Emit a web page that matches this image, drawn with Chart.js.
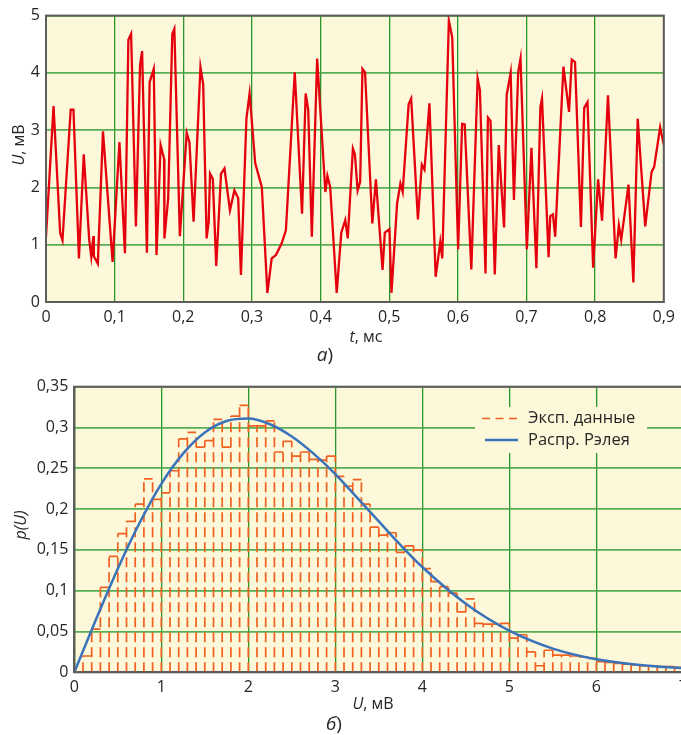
<!DOCTYPE html>
<html>
<head>
<meta charset="utf-8">
<script src="https://cdn.jsdelivr.net/npm/chart.js@4.4.1/dist/chart.umd.min.js"></script>
<style>
  html, body { margin: 0; padding: 0; background: #fff; }
  body { width: 681px; height: 735px; overflow: hidden; position: relative; }
  canvas { position: absolute; left: 0; }
</style>
</head>
<body>
<canvas id="signal" width="681" height="365" style="top:0"></canvas>
<canvas id="density" width="700" height="370" style="top:365px"></canvas>
<script>
// signal U(t): time, ms and voltage, mV
const tMs = [
  0, 0.011, 0.0206, 0.024, 0.036, 0.040, 0.048, 0.055, 0.063, 0.066, 0.069, 0.0697, 0.0755,
  0.083, 0.097, 0.107, 0.115, 0.120, 0.124, 0.131, 0.137, 0.140, 0.147, 0.151, 0.157, 0.161,
  0.167, 0.172, 0.1725, 0.178, 0.184, 0.187, 0.195, 0.205, 0.209, 0.215, 0.225, 0.229, 0.234,
  0.237, 0.239, 0.243, 0.248, 0.255, 0.260, 0.268, 0.2745, 0.280, 0.284, 0.292, 0.2966, 0.3048,
  0.3144, 0.3225, 0.3288, 0.335, 0.3432, 0.3495, 0.3624, 0.373, 0.3783, 0.382, 0.3873, 0.395,
  0.407, 0.410, 0.414, 0.4235, 0.4302, 0.436, 0.4396, 0.4471, 0.450, 0.454, 0.4577, 0.461,
  0.4648, 0.4754, 0.4806, 0.4903, 0.4936, 0.5003, 0.5033, 0.5115, 0.5163, 0.5196, 0.5283,
  0.532, 0.5418, 0.5475, 0.5514, 0.5586, 0.5677, 0.5744, 0.5773, 0.5869, 0.5918, 0.6004,
  0.6062, 0.610, 0.6196, 0.6288, 0.6321, 0.6403, 0.6438, 0.6476, 0.6538, 0.6596, 0.6673,
  0.6711, 0.6769, 0.6817, 0.6879, 0.6913, 0.7005, 0.7072, 0.7144, 0.7202, 0.7226, 0.7322,
  0.7346, 0.7385, 0.7418, 0.7538, 0.762, 0.7659, 0.7707, 0.7793, 0.7841, 0.7889, 0.7971,
  0.8043, 0.8101, 0.8187, 0.8298, 0.8346, 0.838, 0.8486, 0.8557, 0.862, 0.873, 0.8822,
  0.886, 0.8947, 0.9
];
const uMv = [
  1.14, 3.42, 1.21, 1.08, 3.36, 3.36, 0.76, 2.58, 1.08, 0.79, 1.15, 0.80, 0.67,
  2.98, 0.70, 2.79, 0.85, 4.58, 4.68, 1.32, 4.13, 4.38, 0.86, 3.84, 4.07, 0.82,
  2.74, 2.50, 1.11, 1.81, 4.68, 4.77, 1.15, 2.95, 2.79, 1.40, 4.10, 3.80, 1.11,
  1.40, 2.24, 2.15, 0.63, 2.24, 2.33, 1.60, 1.95, 1.81, 0.47, 3.20, 3.64, 2.42,
  2.01, 0.16, 0.76, 0.82, 1.02, 1.25, 4.01, 1.54, 3.64, 3.36, 1.14, 4.25,
  1.92, 2.20, 2.01, 0.16, 1.21, 1.43, 1.11, 2.68, 2.58, 1.95, 2.10, 4.07,
  4.01, 1.37, 2.14, 0.56, 1.21, 1.27, 0.16, 1.72, 2.07, 1.92, 3.45,
  3.55, 1.44, 2.40, 2.31, 3.47, 0.44, 1.05, 0.76, 4.91, 4.62, 0.92,
  3.11, 3.10, 0.57, 3.90, 3.70, 0.50, 3.22, 3.16, 0.48, 2.74, 1.30,
  3.61, 4.00, 1.78, 4.01, 4.25, 0.92, 2.69, 0.59, 3.40, 3.55, 0.78,
  1.50, 1.53, 1.14, 4.11, 3.32, 4.23, 4.19, 1.31, 3.39, 3.49, 0.60,
  2.14, 1.42, 3.61, 0.76, 1.34, 1.09, 2.05, 0.34, 3.20, 1.32, 2.27,
  2.36, 3.05, 2.75
];

// histogram of U, bins of 0.1 mV from 0 to 7 mV
const BIN_WIDTH = 0.1;
const pHist = [
  0.000, 0.020, 0.053, 0.104, 0.142, 0.170, 0.185, 0.206, 0.237, 0.212,
  0.220, 0.247, 0.286, 0.294, 0.276, 0.284, 0.310, 0.276, 0.314, 0.327,
  0.302, 0.302, 0.308, 0.270, 0.283, 0.265, 0.270, 0.261, 0.260, 0.265,
  0.240, 0.228, 0.236, 0.206, 0.178, 0.168, 0.171, 0.147, 0.155, 0.150,
  0.127, 0.111, 0.105, 0.097, 0.074, 0.090, 0.060, 0.059, 0.059, 0.060,
  0.042, 0.046, 0.025, 0.008, 0.027, 0.021, 0.021, 0.020, 0.019, 0.017,
  0.013, 0.012, 0.011, 0.010, 0.009, 0.008, 0.008, 0.007, 0.007, 0.006
];

// Rayleigh density curve
const rayU = [0, 0.25, 0.5, 0.75, 1, 1.25, 1.5, 1.75, 2, 2.25, 2.5, 2.75, 3, 3.25, 3.5, 3.75, 4, 4.5, 5, 5.5, 6, 6.5, 7];
const rayP = [0, 0.065, 0.127, 0.183, 0.231, 0.268, 0.294, 0.308, 0.311, 0.304, 0.289, 0.268, 0.243, 0.214, 0.185, 0.156, 0.129, 0.084, 0.051, 0.029, 0.016, 0.009, 0.005];

const legendLabels = ['Эксп. данные', 'Распр. Рэлея'];

const FONT = '"Open Sans", "DejaVu Sans", sans-serif';
const TEXT = '#262626';
const PLOT_BG = '#fdf8da';
const FRAME = '#5c5c5c';
const GRID_H = 'rgba(70,165,70,0.9)';
const GRID_V = '#2b962b';
const HIST_COLOR = '#f0601e';
const CURVE_COLOR = '#3a73b9';

Chart.defaults.font.family = FONT;
Chart.defaults.font.size = 16;
Chart.defaults.color = TEXT;
Chart.defaults.animation = false;

const comma = v => v === 0 ? '0' : String(+v.toFixed(2)).replace('.', ',');

// cream plot area and a full frame around it
const frame = {
  id: 'frame',
  beforeDraw(chart) {
    const { ctx, chartArea: a } = chart;
    ctx.save();
    ctx.fillStyle = PLOT_BG;
    ctx.fillRect(a.left, a.top, a.right - a.left, a.bottom - a.top);
    ctx.restore();
  },
  afterDraw(chart) {
    const { ctx, chartArea: a } = chart;
    ctx.save();
    ctx.strokeStyle = FRAME;
    ctx.lineWidth = 2;
    ctx.strokeRect(a.left, a.top, a.right - a.left, a.bottom - a.top);
    ctx.restore();
  }
};

// captions with italic and upright pieces
function drawRich(ctx, parts, x, y, angle, size) {
  ctx.save();
  ctx.translate(x, y);
  if (angle) ctx.rotate(angle);
  ctx.fillStyle = TEXT;
  ctx.textBaseline = 'middle';
  ctx.textAlign = 'left';
  const fonts = parts.map(p => (p[1] ? 'italic ' : '') + size + 'px ' + FONT);
  let total = 0;
  parts.forEach((p, i) => { ctx.font = fonts[i]; total += ctx.measureText(p[0]).width; });
  let cx = -total / 2;
  parts.forEach((p, i) => {
    ctx.font = fonts[i];
    ctx.fillText(p[0], cx, 0);
    cx += ctx.measureText(p[0]).width;
  });
  ctx.restore();
}

function captions(list) {
  return {
    id: 'captions',
    afterDraw(chart) {
      list.forEach(c => drawRich(chart.ctx, c.parts, c.x, c.y, c.angle, c.size || 16));
    }
  };
}

const legendBox = {
  id: 'legendBox',
  afterDraw(chart) {
    const { ctx } = chart;
    ctx.save();
    ctx.fillStyle = PLOT_BG;
    ctx.fillRect(475, 42, 172, 46);
    ctx.lineCap = 'butt';
    ctx.strokeStyle = HIST_COLOR;
    ctx.lineWidth = 1.7;
    ctx.setLineDash([8, 5.5]);
    ctx.beginPath(); ctx.moveTo(482, 53.5); ctx.lineTo(517, 53.5); ctx.stroke();
    ctx.setLineDash([]);
    ctx.strokeStyle = CURVE_COLOR;
    ctx.lineWidth = 2.5;
    ctx.beginPath(); ctx.moveTo(485, 75); ctx.lineTo(518, 75); ctx.stroke();
    ctx.fillStyle = TEXT;
    ctx.font = '16.5px ' + FONT;
    ctx.textBaseline = 'middle';
    ctx.fillText(legendLabels[0], 528, 53);
    ctx.fillText(legendLabels[1], 528, 75);
    ctx.restore();
  }
};

// U(t) signal
new Chart(document.getElementById('signal'), {
  type: 'line',
  data: {
    datasets: [{
      data: tMs.map((t, i) => ({ x: t, y: uMv[i] })),
      borderColor: '#e5000d',
      borderWidth: 2.3,
      pointRadius: 0,
      tension: 0,
      borderJoinStyle: 'miter'
    }]
  },
  options: {
    responsive: false,
    layout: { padding: { top: 15, right: 11, left: 0, bottom: 0 } },
    plugins: { legend: { display: false }, tooltip: { enabled: false } },
    scales: {
      x: {
        type: 'linear', min: 0, max: 0.9,
        ticks: { stepSize: 0.1, padding: 6, callback: v => comma(v) },
        grid: { color: GRID_V, lineWidth: 1.3, drawTicks: false },
        border: { color: FRAME, width: 2 },
        afterFit(scale) { scale.height = 63; }
      },
      y: {
        min: 0, max: 5,
        ticks: { stepSize: 1, padding: 6 },
        grid: { color: GRID_H, lineWidth: 1.8, drawTicks: false },
        border: { color: FRAME, width: 2 },
        afterFit(scale) { scale.width = 46; }
      }
    }
  },
  plugins: [frame, captions([
    { parts: [['U', true], [', мВ', false]], x: 19, y: 145, angle: -Math.PI / 2 },
    { parts: [['t', true], [', мс', false]], x: 366, y: 337 },
    { parts: [['а', true], [')', false]], x: 325, y: 356, size: 19 }
  ])]
});

// histogram drawn as dashed bar outlines: each edge once, then each bar top
const histPoints = [];
pHist.forEach((h, i) => {
  const x0 = +(i * BIN_WIDTH).toFixed(2);
  const x1 = +((i + 1) * BIN_WIDTH).toFixed(2);
  const edge = Math.max(h, i ? pHist[i - 1] : 0);
  histPoints.push({ x: x0, y: 0 }, { x: x0, y: edge }, { x: x0, y: null });
  histPoints.push({ x: x0, y: h }, { x: x1, y: h }, { x: x1, y: null });
});
const lastX = +(pHist.length * BIN_WIDTH).toFixed(2);
histPoints.push({ x: lastX, y: 0 }, { x: lastX, y: pHist[pHist.length - 1] });

new Chart(document.getElementById('density'), {
  type: 'line',
  data: {
    datasets: [{
      label: legendLabels[1],
      data: rayU.map((u, i) => ({ x: u, y: rayP[i] })),
      borderColor: CURVE_COLOR,
      borderWidth: 2.5,
      pointRadius: 0,
      cubicInterpolationMode: 'monotone',
      order: 0
    }, {
      label: legendLabels[0],
      data: histPoints,
      borderColor: HIST_COLOR,
      borderWidth: 1.7,
      borderDash: [10, 5],
      borderCapStyle: 'butt',
      pointRadius: 0,
      spanGaps: false,
      tension: 0,
      order: 1
    }]
  },
  options: {
    responsive: false,
    layout: { padding: { top: 21.7, right: 16.7, left: 0, bottom: 0 } },
    plugins: { legend: { display: false }, tooltip: { enabled: false } },
    scales: {
      x: {
        type: 'linear', min: 0, max: 7,
        ticks: { stepSize: 1, padding: 6 },
        grid: { color: GRID_V, lineWidth: 1.3, drawTicks: false },
        border: { color: FRAME, width: 2 },
        afterFit(scale) { scale.height = 62.7; }
      },
      y: {
        min: 0, max: 0.35,
        ticks: { stepSize: 0.05, padding: 6, callback: v => comma(v) },
        grid: { color: GRID_H, lineWidth: 1.8, drawTicks: false },
        border: { color: FRAME, width: 2 },
        afterFit(scale) { scale.width = 74.3; }
      }
    }
  },
  plugins: [frame, legendBox, captions([
    { parts: [['p(U)', true]], x: 21, y: 160, angle: -Math.PI / 2 },
    { parts: [['U', true], [', мВ', false]], x: 373, y: 339 },
    { parts: [['б', true], [')', false]], x: 334, y: 360, size: 19 }
  ])]
});
</script>
</body>
</html>
